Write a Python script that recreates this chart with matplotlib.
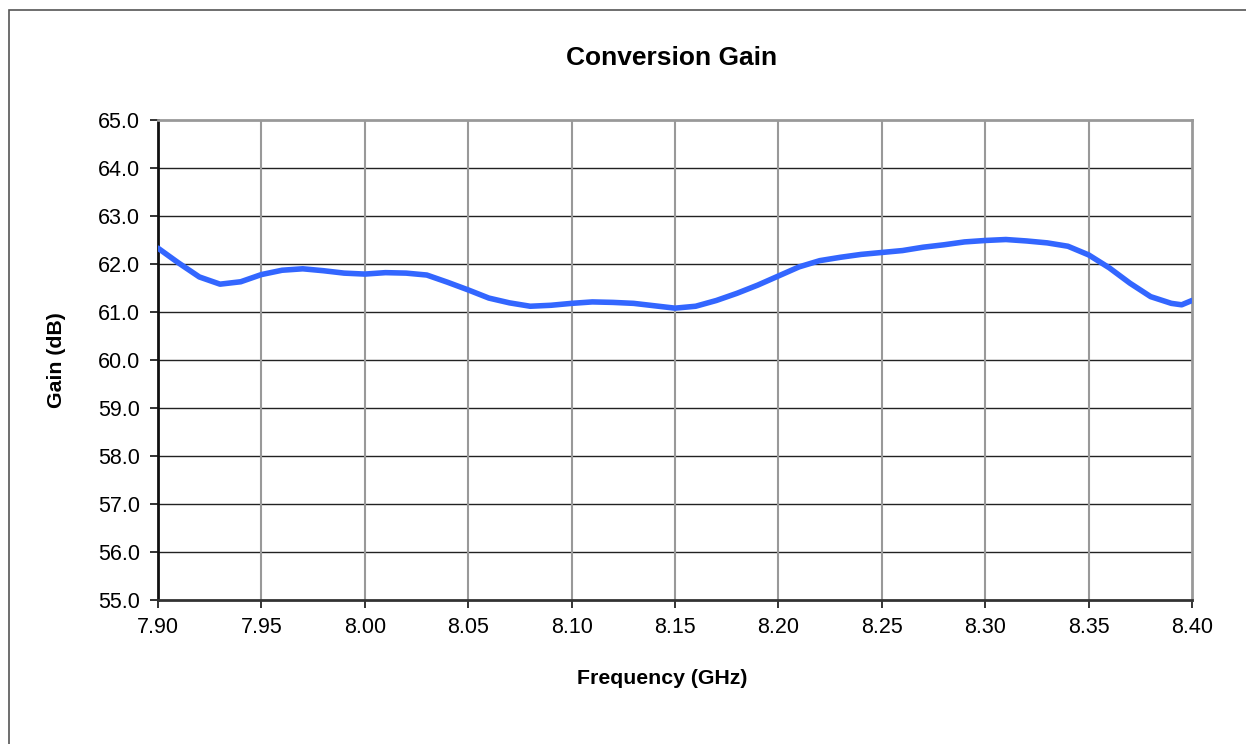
import matplotlib
matplotlib.use("Agg")
import matplotlib.pyplot as plt
from matplotlib.patches import Rectangle
import numpy as np

freq_ghz = [7.900, 7.910, 7.920, 7.930, 7.940, 7.950, 7.960, 7.970, 7.980, 7.990,
            8.000, 8.010, 8.020, 8.030, 8.040, 8.050, 8.060, 8.070, 8.080, 8.090,
            8.100, 8.110, 8.120, 8.130, 8.140, 8.150, 8.160, 8.170, 8.180, 8.190,
            8.200, 8.210, 8.220, 8.230, 8.240, 8.250, 8.260, 8.270, 8.280, 8.290,
            8.300, 8.310, 8.320, 8.330, 8.340, 8.350, 8.360, 8.370, 8.380, 8.390,
            8.395, 8.400]
gain_db = [62.33, 62.02, 61.73, 61.58, 61.63, 61.78, 61.87, 61.90, 61.86, 61.81,
           61.79, 61.82, 61.81, 61.77, 61.62, 61.46, 61.29, 61.19, 61.12, 61.14,
           61.18, 61.21, 61.20, 61.18, 61.13, 61.08, 61.12, 61.24, 61.39, 61.56,
           61.75, 61.94, 62.07, 62.14, 62.20, 62.24, 62.28, 62.35, 62.40, 62.46,
           62.49, 62.51, 62.48, 62.44, 62.37, 62.19, 61.92, 61.60, 61.32, 61.18,
           61.15, 61.24]

xticks = [7.90, 7.95, 8.00, 8.05, 8.10, 8.15, 8.20, 8.25, 8.30, 8.35, 8.40]
yticks = [55.0, 56.0, 57.0, 58.0, 59.0, 60.0, 61.0, 62.0, 63.0, 64.0, 65.0]

plt.rcParams['font.family'] = ['Liberation Sans', 'DejaVu Sans']

W, H = 1246, 744
fig = plt.figure(figsize=(W / 100, H / 100), dpi=100)
fig.patch.set_facecolor('white')
ax = fig.add_axes([158 / W, 1 - 600 / H, (1192 - 158) / W, (600 - 120) / H])

ax.plot(freq_ghz, gain_db, color='#3366FF', linewidth=4.0, solid_capstyle='round', zorder=3)

ax.set_xlim(7.90, 8.40)
ax.set_ylim(55.0, 65.0)
ax.set_xticks(xticks)
ax.set_xticklabels([f"{v:.2f}" for v in xticks])
ax.set_yticks(yticks)
ax.set_yticklabels([f"{v:.1f}" for v in yticks])

for v in yticks[1:-1]:
    ax.axhline(v, color='#222222', linewidth=1.0, zorder=1)
for v in xticks[1:-1]:
    ax.axvline(v, color='#999999', linewidth=1.5, zorder=1)

ax.spines['left'].set_color('#111111')
ax.spines['left'].set_linewidth(2.0)
ax.spines['bottom'].set_color('#333333')
ax.spines['bottom'].set_linewidth(2.0)
ax.spines['top'].set_color('#999999')
ax.spines['top'].set_linewidth(2.0)
ax.spines['right'].set_color('#999999')
ax.spines['right'].set_linewidth(2.0)

ax.tick_params(axis='both', direction='out', length=6, width=1.2, color='#111111',
               labelsize=15.5)
ax.tick_params(axis='y', pad=7)
ax.tick_params(axis='x', pad=6)

fig.text(672 / W, 1 - 58 / H, 'Conversion Gain', ha='center', va='center',
         fontsize=19, fontweight='bold')
fig.text(662 / W, 1 - 678 / H, 'Frequency (GHz)', ha='center', va='center',
         fontsize=15.3, fontweight='bold')
fig.text(57 / W, 1 - 360 / H, 'Gain (dB)', ha='center', va='center',
         fontsize=15.3, fontweight='bold', rotation=90)

border = Rectangle((9 / W, -0.02), 1.05, 1 - 10 / H + 0.02, transform=fig.transFigure,
                   fill=False, edgecolor='#555555', linewidth=1.2, clip_on=False)
fig.patches.append(border)

fig.savefig('out.png', dpi=100)
